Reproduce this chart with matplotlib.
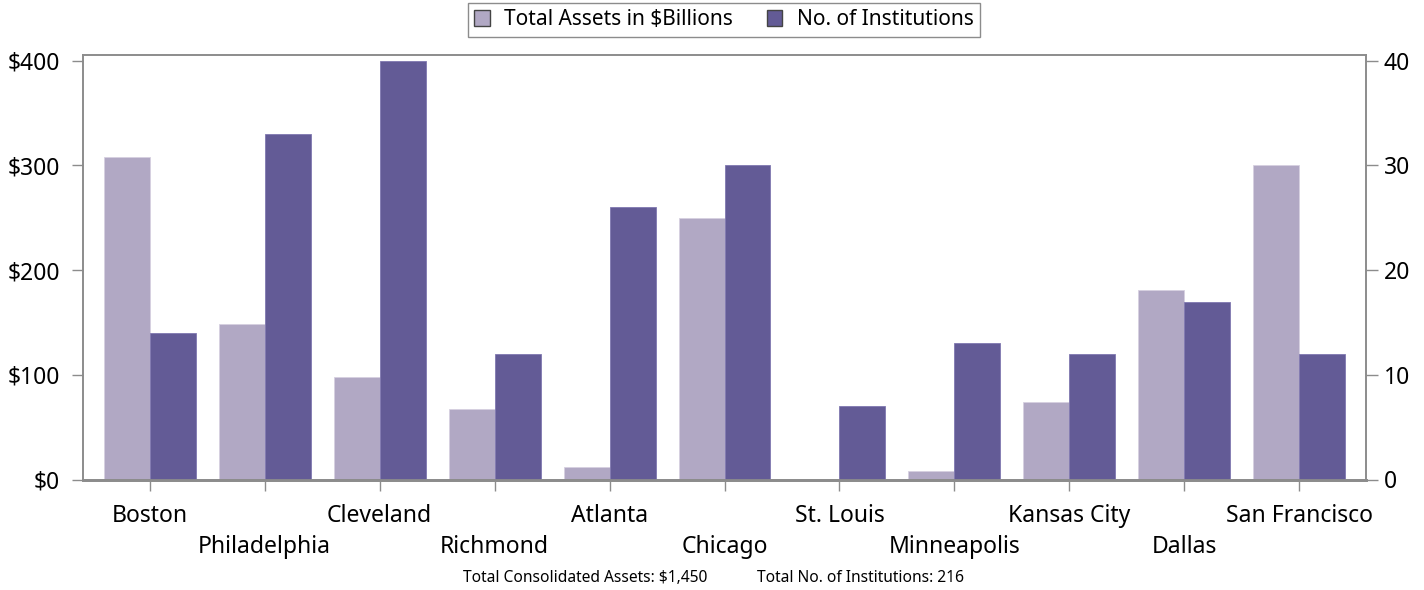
import matplotlib
matplotlib.use("Agg")
from matplotlib import pyplot as plt
from matplotlib.patches import Patch
import numpy as np

plt.rcParams['font.family'] = ['Noto Sans', 'DejaVu Sans']

# data
districts = ["Boston", "Philadelphia", "Cleveland", "Richmond", "Atlanta", "Chicago",
             "St. Louis", "Minneapolis", "Kansas City", "Dallas", "San Francisco"]
assets = [308, 149, 98, 67, 12, 250, 0, 8, 74, 181, 300]
institutions = [14, 33, 40, 12, 26, 30, 7, 13, 12, 17, 12]
asset_ticks = [0, 100, 200, 300, 400]
asset_labels = ["$0", "$100", "$200", "$300", "$400"]
inst_ticks = [0, 10, 20, 30, 40]

light = "#b1a8c4"
dark = "#635b96"
grey = "#8c8c8c"

fig = plt.figure(figsize=(14.24, 5.9), dpi=100)
ax = fig.add_axes([83/1424, 1-479.5/590, (1366-83)/1424, (479.5-55)/590])
ax2 = ax.twinx()

x = np.arange(len(districts))
w = 0.4
ax.bar(x - w/2, assets, width=w, color=light, edgecolor="#d6d0e0", linewidth=0.6)
ax2.bar(x + w/2, institutions, width=w, color=dark, edgecolor="#8078b0", linewidth=0.6)

ax.set_xlim(-0.58, len(districts) - 0.42)
ax.set_ylim(0, 405.5)
ax2.set_ylim(0, 40.55)

ax.set_yticks(asset_ticks)
ax.set_yticklabels(asset_labels)
ax2.set_yticks(inst_ticks)

ax.set_xticks(x)
ax.set_xticklabels(districts)

for a in (ax, ax2):
    for s in a.spines.values():
        s.set_color(grey)
        s.set_linewidth(1.2)
    a.tick_params(colors=grey, labelcolor="black", length=8, width=1, labelsize=16.5)
ax.tick_params(axis="y", labelsize=16.5, pad=8.5)
ax2.tick_params(axis="y", labelsize=16.5, length=8.6, pad=4)
ax.spines["bottom"].set_linewidth(2)
ax2.spines["bottom"].set_linewidth(2)

# staggered district labels
for i, t in enumerate(ax.xaxis.get_major_ticks()):
    t.set_pad(10 if i % 2 == 0 else 32)

handles = [Patch(facecolor=light, edgecolor="#444444", linewidth=1),
           Patch(facecolor=dark, edgecolor="#444444", linewidth=1)]
leg = fig.legend(handles, ["Total Assets in $Billions", "No. of Institutions"],
                 loc="upper center", bbox_to_anchor=(724/1424, 1-3/590), ncol=2,
                 fontsize=15, fancybox=False, framealpha=1, edgecolor=grey,
                 handlelength=0.75, handleheight=0.75, borderpad=0.3, columnspacing=1.6,
                 handletextpad=0.7, borderaxespad=0)
leg.get_frame().set_linewidth(1)

fig.text(463/1424, 1-578/590, "Total Consolidated Assets: $1,450", fontsize=11.2, va="center")
fig.text(757/1424, 1-578/590, "Total No. of Institutions: 216", fontsize=11.2, va="center")

fig.savefig("out.png", dpi=100)
